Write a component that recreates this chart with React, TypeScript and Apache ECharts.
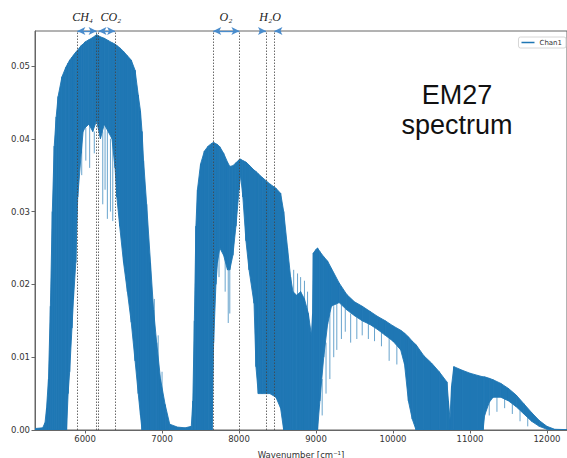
import React, { useEffect, useRef } from "react";
import * as echarts from "echarts";

// Spectrum: outer (upper) envelope and the lower edge of the dense line forest
const wavenumber = [
  5350, 5450, 5480, 5500, 5525, 5550, 5575, 5600, 5625, 5650, 5700, 5750, 5760, 5780, 5800, 5830,
  5850, 5880, 5905, 5950, 5975, 6000, 6050, 6100, 6150, 6200, 6250, 6300, 6350, 6390, 6413, 6450,
  6500, 6550, 6600, 6650, 6691, 6720, 6740, 6760, 6800, 6850, 6890, 6930, 6980, 7040, 7100, 7200,
  7300, 7380, 7400, 7420, 7440, 7460, 7500, 7550, 7600, 7650, 7670, 7700, 7720, 7750, 7800, 7850,
  7880, 7920, 7960, 8000, 8020, 8050, 8090, 8130, 8195, 8220, 8250, 8300, 8400, 8480, 8540, 8580,
  8630, 8670, 8700, 8750, 8800, 8850, 8900, 8940, 8955, 8965, 9000, 9020, 9050, 9100, 9150, 9200,
  9300, 9400, 9500, 9600, 9700, 9800, 9900, 10000, 10100, 10150, 10200, 10250, 10300, 10400, 10500,
  10600, 10700, 10720, 10740, 10760, 10790, 10900, 11000, 11100, 11170, 11190, 11250, 11300, 11400,
  11500, 11600, 11700, 11800, 11900, 12000, 12100, 12260,
];
const upperEnv = [
  0.0002, 0.0003, 0.001, 0.003, 0.007, 0.017, 0.03, 0.039, 0.043, 0.0458, 0.0485, 0.0498, 0.05, 0.0504, 0.0508, 0.0512,
  0.0515, 0.0519, 0.0522, 0.0528, 0.053, 0.0533, 0.0536, 0.0539, 0.0543, 0.054, 0.0538, 0.0535, 0.0532, 0.053, 0.0528, 0.0525,
  0.052, 0.0514, 0.0508, 0.0494, 0.046, 0.0438, 0.041, 0.037, 0.031, 0.023, 0.0165, 0.012, 0.007, 0.0035, 0.0008, 0.0004,
  0.0003, 0.0005, 0.004, 0.015, 0.028, 0.033, 0.0365, 0.0383, 0.039, 0.0394, 0.0395, 0.0393, 0.0392, 0.0389, 0.038, 0.0368,
  0.0362, 0.0363, 0.0367, 0.0371, 0.0372, 0.037, 0.0368, 0.0364, 0.0357, 0.0355, 0.0352, 0.0347, 0.0338, 0.0332, 0.0325, 0.03,
  0.025, 0.021, 0.019, 0.0185, 0.019, 0.018, 0.016, 0.013, 0.016, 0.0243, 0.0248, 0.025, 0.0245, 0.0238, 0.0232, 0.0222,
  0.0202, 0.0186, 0.0176, 0.017, 0.0163, 0.0156, 0.015, 0.0143, 0.0137, 0.0133, 0.0128, 0.0122, 0.0117, 0.0102, 0.0092,
  0.008, 0.0066, 0.004, 0.0015, 0.006, 0.0087, 0.0082, 0.0078, 0.0075, 0.0073, 0.0073, 0.0071, 0.0069, 0.0064,
  0.0057, 0.0048, 0.0036, 0.0024, 0.0013, 0.0005, 0.0001, 0.00005,
];
const lowerEnv = [
  0, 0, 0, 0, 0, 0, 0, 0, 0, 0, 0, 0, 0, 0.005, 0.008, 0.014,
  0.018, 0.023, 0.032, 0.038, 0.041, 0.0415, 0.042, 0.041, 0.0425, 0.04, 0.042, 0.041, 0.04, 0.036, 0.032, 0.028,
  0.023, 0.019, 0.0148, 0.0095, 0.005, 0.002, 0, 0, 0, 0, 0, 0, 0, 0, 0, 0,
  0, 0, 0, 0, 0, 0, 0, 0, 0, 0, 0.012, 0.02, 0.023, 0.025, 0.024, 0.022,
  0.022, 0.024, 0.028, 0.033, 0.035, 0.032, 0.026, 0.022, 0.0174, 0.0087, 0.005, 0.005, 0.005, 0.0045, 0.003, 0,
  0, 0, 0, 0, 0, 0, 0, 0, 0, 0, 0, 0, 0.004, 0.01, 0.0145, 0.017,
  0.0175, 0.0165, 0.0157, 0.015, 0.0145, 0.0138, 0.013, 0.0122, 0.011, 0.009, 0.004, 0.0015, 0, 0, 0,
  0, 0, 0, 0, 0, 0, 0, 0, 0, 0, 0.002, 0.0038, 0.0045, 0.0045,
  0.004, 0.0032, 0.0022, 0.0012, 0.0005, 0.0001, 0, 0,
];

// Individual strong lines that stick out of the dense band (position, top, bottom)
const lineWn = [
  5957, 6010, 6060, 6120, 6230, 6260, 6290, 6330, 6360,
  6900, 6950, 7000,
  7740, 7820, 7860, 7880,
  8710, 8760, 8800, 8850, 8890,
  9080, 9130, 9180, 9230, 9270, 9330, 9380, 9450, 9530, 9600, 9680, 9760, 9850, 9950, 10050,
  11250, 11350, 11450, 11550, 11650, 11750,
];
const lineTop = [
  0.041, 0.0415, 0.042, 0.041, 0.041, 0.042, 0.041, 0.04, 0.04,
  0.018, 0.013, 0.008,
  0.025, 0.024, 0.022, 0.022,
  0.022, 0.0215, 0.021, 0.0205, 0.019,
  0.007, 0.012, 0.016, 0.017, 0.0175, 0.0172, 0.0167, 0.016, 0.0155, 0.015, 0.0147, 0.014, 0.0134, 0.0126, 0.0116,
  0.0038, 0.0045, 0.0043, 0.0036, 0.0027, 0.0017,
];
const lineBottom = [
  0.035, 0.037, 0.036, 0.038, 0.031, 0.033, 0.029, 0.03, 0.0287,
  0, 0, 0,
  0.021, 0.019, 0.0147, 0.016,
  0, 0, 0, 0, 0,
  0.002, 0.005, 0.007, 0.01, 0.011, 0.0125, 0.0135, 0.012, 0.0125, 0.013, 0.0125, 0.0122, 0.0115, 0.0095, 0.009,
  0.002, 0.0025, 0.003, 0.0022, 0.0012, 0.0005,
];

// Dotted window markers and the labelled retrieval windows
const markerLines = [5900, 6150, 6175, 6390, 7665, 8005, 8350, 8460];
const windowNames = ["CH₄", "CO₂", "O₂", "H₂O"];
const windowFrom = [5900, 6175, 7665, 8350];
const windowTo = [6150, 6390, 8005, 8460];
const windowLabelAt = [5968, 6335, 7831, 8403];

const xTicks = [6000, 7000, 8000, 9000, 10000, 11000, 12000];
const X_MIN = 5350;
const X_MAX = 12260;
const Y_MAX = 0.0548;

const BLUE = "#1f77b4";
const ARROW = "#4a8ccc";

export default function App() {
  const ref = useRef<HTMLDivElement>(null);

  useEffect(() => {
    const chart = echarts.init(ref.current!, null, { renderer: "svg" });

    const spectrumData = wavenumber.map((w, i) => [w, upperEnv[i], lowerEnv[i]]);
    const lineData = lineWn.map((w, i) => [w, lineTop[i], lineBottom[i]]);

    const arrowData: any[] = [];
    windowNames.forEach((n, i) => {
      if (n === "H₂O") {
        const w = windowTo[i] - windowFrom[i];
        arrowData.push([
          { coord: [windowFrom[i] - 0.8 * w, Y_MAX], symbol: "none" },
          { coord: [windowFrom[i], Y_MAX], symbol: "arrow" },
        ]);
        arrowData.push([
          { coord: [windowTo[i] + 0.8 * w, Y_MAX], symbol: "none" },
          { coord: [windowTo[i], Y_MAX], symbol: "arrow" },
        ]);
      } else {
        arrowData.push([
          { coord: [windowFrom[i], Y_MAX], symbol: "arrow" },
          { coord: [windowTo[i], Y_MAX], symbol: "arrow" },
        ]);
      }
    });

    const renderSpectrum = (params: any, api: any) => {
      const i = params.dataIndex;
      if (i >= wavenumber.length - 1) return null;
      const a = api.coord([wavenumber[i], upperEnv[i]]);
      const b = api.coord([wavenumber[i + 1], upperEnv[i + 1]]);
      const c = api.coord([wavenumber[i + 1], lowerEnv[i + 1]]);
      const d = api.coord([wavenumber[i], lowerEnv[i]]);
      return {
        type: "polygon",
        shape: { points: [a, b, c, d] },
        style: { fill: BLUE, stroke: BLUE, lineWidth: 0.9 },
      };
    };

    const renderLines = (params: any, api: any) => {
      const p1 = api.coord([api.value(0), api.value(1)]);
      const p2 = api.coord([api.value(0), api.value(2)]);
      return {
        type: "line",
        shape: { x1: p1[0], y1: p1[1], x2: p2[0], y2: p2[1] },
        style: { stroke: BLUE, lineWidth: 0.9, opacity: 0.75 },
      };
    };

    const option: any = {
      animation: false,
      backgroundColor: "#fff",
      textStyle: { fontFamily: "DejaVu Sans" },
      grid: {
        left: 35,
        right: 0,
        top: 31,
        bottom: 28,
        outerBoundsMode: "none",
        show: true,
        borderColor: "#666",
        borderWidth: 1,
        backgroundColor: "transparent",
      },
      legend: {
        data: ["Chan1"],
        right: 1,
        top: 37,
        icon: "rect",
        itemWidth: 13,
        itemHeight: 1.5,
        padding: [2, 4, 2, 3],
        backgroundColor: "#fff",
        borderColor: "#ccc",
        borderWidth: 0.8,
        borderRadius: 2,
        textStyle: { fontSize: 7, color: "#333", fontFamily: "DejaVu Sans" },
      },
      xAxis: {
        type: "value",
        min: X_MIN,
        max: X_MAX,
        name: "Wavenumber [cm⁻¹]",
        nameLocation: "middle",
        nameGap: 20,
        nameTextStyle: { fontSize: 8.5, color: "#333", fontFamily: "DejaVu Sans" },
        axisLine: { onZero: false, lineStyle: { color: "#666", width: 1 } },
        axisTick: { customValues: xTicks, length: 3.5, lineStyle: { color: "#666" } },
        axisLabel: {
          customValues: xTicks,
          fontSize: 8.5,
          color: "#333",
          margin: 4,
          formatter: (v: number) => String(v),
        },
        splitLine: { show: false },
      },
      yAxis: {
        type: "value",
        min: 0,
        max: Y_MAX,
        interval: 0.01,
        axisLine: { show: true, lineStyle: { color: "#666", width: 1 } },
        axisTick: { show: true, length: 3.5, lineStyle: { color: "#666" } },
        axisLabel: {
          fontSize: 8.5,
          color: "#333",
          margin: 5,
          showMaxLabel: false,
          formatter: (v: number) => v.toFixed(2),
        },
        splitLine: { show: false },
      },
      series: [
        {
          name: "Chan1",
          type: "custom",
          data: spectrumData,
          encode: { x: 0, y: [1, 2] },
          renderItem: renderSpectrum,
          itemStyle: { color: BLUE },
          silent: true,
          clip: true,
          z: 2,
        },
        {
          name: "lines",
          type: "custom",
          data: lineData,
          encode: { x: 0, y: [1, 2] },
          renderItem: renderLines,
          itemStyle: { color: BLUE },
          silent: true,
          clip: true,
          z: 2,
        },
        {
          name: "annot",
          type: "line",
          data: [],
          clip: false,
          z: 4,
          markLine: {
            silent: true,
            symbol: ["none", "none"],
            label: { show: false },
            lineStyle: { color: "#444", width: 0.8, type: [1.5, 1.5] },
            data: markerLines.map((v) => ({ xAxis: v })),
          },
        },
        {
          name: "arrows",
          type: "line",
          data: [],
          clip: false,
          z: 5,
          markLine: {
            silent: true,
            symbolSize: [6, 8],
            label: { show: false },
            lineStyle: { color: ARROW, width: 1.3, type: "solid" },
            data: arrowData,
          },
          markPoint: {
            silent: true,
            symbol: "circle",
            symbolSize: 0.1,
            itemStyle: { color: "transparent" },
            label: {
              show: true,
              position: "inside",
              offset: [0, -14],
              fontFamily: "'Liberation Serif', 'DejaVu Serif'",
              fontStyle: "italic",
              fontSize: 12,
              color: "#222",
              formatter: (p: any) => p.name,
            },
            data: windowNames.map((n, i) => ({ name: n, coord: [windowLabelAt[i], Y_MAX] })),
          },
        },
      ],
      graphic: [
        {
          type: "text",
          x: 457,
          y: 80,
          style: {
            text: "EM27\nspectrum",
            fontFamily: "'Liberation Sans', Arial",
            fontSize: 27,
            lineHeight: 30,
            fill: "#111",
            align: "center",
            verticalAlign: "top",
          },
        },
      ],
    };

    chart.setOption(option);
    return () => chart.dispose();
  }, []);

  return (
    <div
      ref={ref}
      style={{ position: "fixed", left: 0, top: 0, width: 567, height: 458, background: "#fff" }}
    />
  );
}
